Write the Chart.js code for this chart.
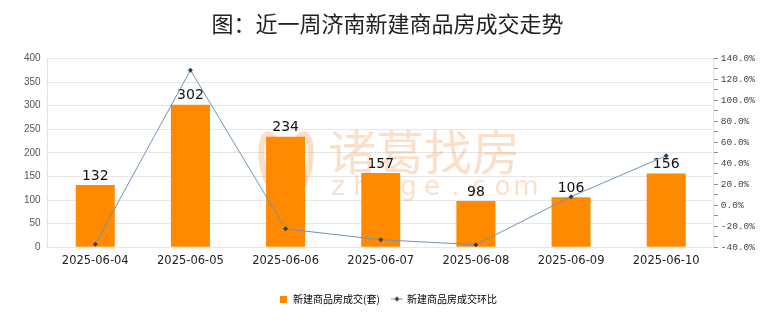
<!DOCTYPE html>
<html>
<head>
<meta charset="utf-8">
<script src="https://cdn.jsdelivr.net/npm/chart.js@4/dist/chart.umd.min.js"></script>
<style>
    html, body { margin: 0; padding: 0; background: #ffffff; }
    #chart-wrap { width: 780px; height: 328px; }
</style>
</head>
<body>
<div id="chart-wrap"><canvas id="chart-deals" width="780" height="328"></canvas></div>
<script>
// 济南新建商品房 — 近一周成交套数及环比
const DAYS = ['2025-06-04','2025-06-05','2025-06-06','2025-06-07','2025-06-08','2025-06-09','2025-06-10'];
const DEALS = [132, 302, 234, 157, 98, 106, 156];
const DEALS_MOM = [-37.1, 128.8, -22.5, -32.9, -37.6, 8.2, 47.2];
const LEFT_RANGE = [0, 400, 50];
const RIGHT_RANGE = [-40, 140, 10];

const BAR_COLOR = '#ff8a00';
const LINE_COLOR = '#6b93bd';
const DOT_COLOR = '#2d3e55';
const CJK = '"Noto Sans CJK SC", "Noto Sans", sans-serif';

// small legend swatches
function makeSwatch(w, h, draw) {
    const c = document.createElement('canvas');
    c.width = w; c.height = h;
    draw(c.getContext('2d'));
    return c;
}
const barSwatch = makeSwatch(7, 7, g => { g.fillStyle = BAR_COLOR; g.fillRect(0, 0, 7, 7); });
const lineSwatch = makeSwatch(12, 7, g => {
    g.strokeStyle = LINE_COLOR; g.lineWidth = 1;
    g.beginPath(); g.moveTo(0, 3.5); g.lineTo(12, 3.5); g.stroke();
    g.fillStyle = DOT_COLOR;
    g.beginPath(); g.moveTo(6, 1); g.lineTo(8.5, 3.5); g.lineTo(6, 6); g.lineTo(3.5, 3.5); g.closePath(); g.fill();
});

// faint site mark behind the bars
const watermark = {
    id: 'watermark',
    beforeDatasetsDraw(chart) {
        const ctx = chart.ctx;
        ctx.save();
        ctx.fillStyle = 'rgba(242,155,85,0.32)';
        ctx.strokeStyle = 'rgba(242,155,85,0.32)';
        ctx.lineWidth = 6;
        ctx.beginPath(); ctx.ellipse(272, 162, 10, 28, -0.15, 0, Math.PI * 2); ctx.stroke();
        ctx.beginPath(); ctx.ellipse(300, 162, 10, 28, 0.15, 0, Math.PI * 2); ctx.stroke();
        ctx.font = '48px ' + CJK;
        ctx.textAlign = 'left';
        ctx.textBaseline = 'middle';
        ctx.fillText('诸葛找房', 328, 152);
        ctx.font = '26px "DejaVu Sans", sans-serif';
        ctx.textAlign = 'center';
        'zhuge.com'.split('').forEach((ch, i) => {
            ctx.fillText(ch, 338 + i * 23.5, 188);
        });
        ctx.restore();
    }
};

// numbers above the bars
const barValues = {
    id: 'barValues',
    afterDatasetDraw(chart, args) {
        if (args.index !== 0) return;
        const ctx = chart.ctx;
        ctx.save();
        ctx.font = '14px "DejaVu Sans", sans-serif';
        ctx.fillStyle = '#111';
        ctx.textAlign = 'center';
        ctx.textBaseline = 'bottom';
        args.meta.data.forEach((bar, i) => {
            ctx.fillText(String(DEALS[i]), bar.x, bar.y - 2);
        });
        ctx.restore();
    }
};

new Chart(document.getElementById('chart-deals'), {
    type: 'bar',
    data: {
        labels: DAYS,
        datasets: [
            {
                type: 'bar',
                label: '新建商品房成交(套)',
                data: DEALS,
                backgroundColor: BAR_COLOR,
                yAxisID: 'y',
                barPercentage: 0.41,
                categoryPercentage: 1,
                order: 2
            },
            {
                type: 'line',
                label: '新建商品房成交环比',
                data: DEALS_MOM,
                borderColor: LINE_COLOR,
                borderWidth: 1,
                pointStyle: 'rectRot',
                pointRadius: 2.5,
                pointBackgroundColor: DOT_COLOR,
                pointBorderColor: DOT_COLOR,
                pointBorderWidth: 0,
                tension: 0,
                yAxisID: 'y1',
                order: 1
            }
        ]
    },
    options: {
        responsive: false,
        animation: false,
        layout: { padding: { left: 17, right: 22, top: 0, bottom: 14 } },
        plugins: {
            title: {
                display: true,
                text: '图：近一周济南新建商品房成交走势',
                color: '#222',
                font: { family: CJK, size: 22, weight: 'normal' },
                padding: { top: 10, bottom: 22 }
            },
            legend: {
                position: 'bottom',
                labels: {
                    color: '#333',
                    font: { family: CJK, size: 10 },
                    usePointStyle: true,
                    padding: 12,
                    generateLabels: () => [
                        { text: '新建商品房成交(套)', pointStyle: barSwatch, fillStyle: BAR_COLOR, strokeStyle: BAR_COLOR, lineWidth: 0, datasetIndex: 0 },
                        { text: '新建商品房成交环比', pointStyle: lineSwatch, fillStyle: LINE_COLOR, strokeStyle: LINE_COLOR, lineWidth: 0, datasetIndex: 1 }
                    ]
                }
            },
            tooltip: { enabled: false }
        },
        scales: {
            x: {
                grid: { display: false, drawTicks: false },
                border: { display: false },
                ticks: { color: '#222', font: { family: '"DejaVu Sans", sans-serif', size: 11.5 }, padding: 7, maxRotation: 0 },
                afterFit: scale => { scale.height += 7; }
            },
            y: {
                position: 'left',
                min: LEFT_RANGE[0],
                max: LEFT_RANGE[1],
                ticks: { stepSize: LEFT_RANGE[2], color: '#555', font: { family: '"Liberation Sans", sans-serif', size: 10 }, padding: 7 },
                grid: { color: '#e6e6e6', drawTicks: false },
                border: { display: true, color: '#e2e2e2' }
            },
            y1: {
                position: 'right',
                min: RIGHT_RANGE[0],
                max: RIGHT_RANGE[1],
                ticks: {
                    stepSize: RIGHT_RANGE[2],
                    autoSkip: false,
                    color: '#444',
                    font: { family: '"Liberation Mono", monospace', size: 9.5 },
                    padding: 3,
                    callback: v => (v % 20 === 0 ? v.toFixed(1) + '%' : '')
                },
                grid: { drawOnChartArea: false, tickLength: 4, color: '#888' },
                border: { display: true, color: '#e2e2e2' }
            }
        }
    },
    plugins: [watermark, barValues]
});
</script>
</body>
</html>
